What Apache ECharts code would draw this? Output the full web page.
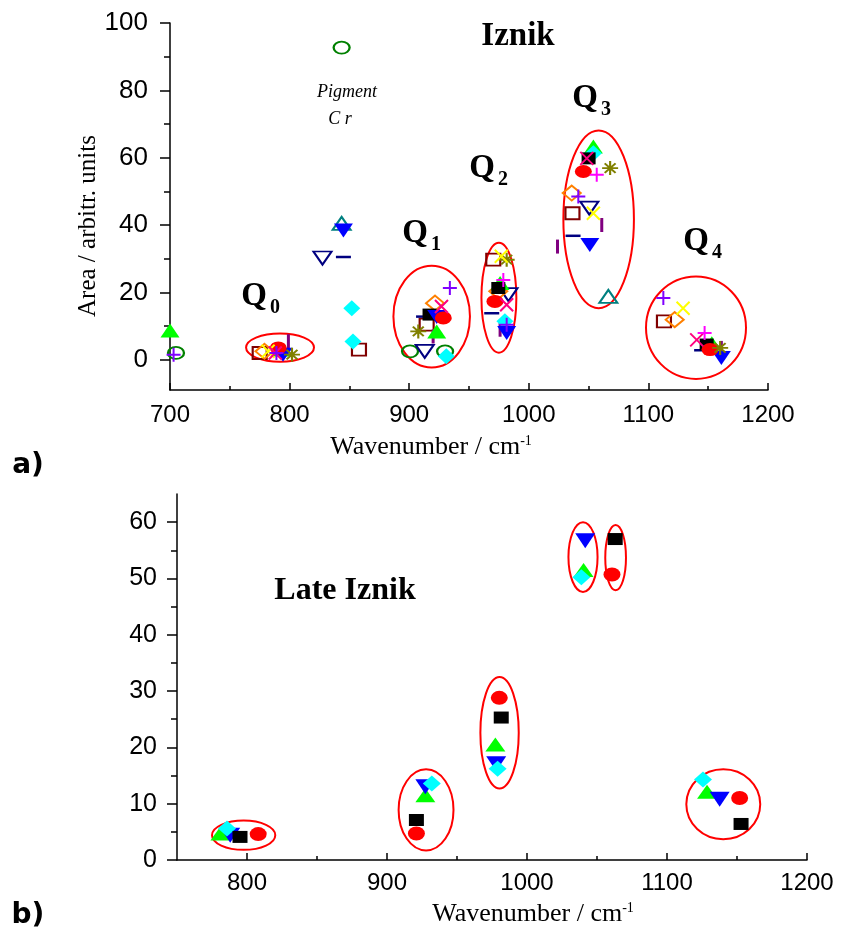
<!DOCTYPE html>
<html><head><meta charset="utf-8">
<script src="https://cdn.jsdelivr.net/npm/echarts@6/dist/echarts.min.js"></script>
<style>html,body{margin:0;padding:0;background:#fff}#c{width:847px;height:936px}</style>
</head><body><div id="c"></div>
<script>
// ===== Panel a) Iznik : [wavenumber (cm-1), area (arbitr. units)] =====
const blackSquareA   = [[917,13.4],[974.5,21.3],[1050,59.8],[1148.7,4.5]];
const redCircleA     = [[790.5,3.5],[928.5,12.4],[971.7,17.3],[1045.6,55.9],[1151.5,3]];
const greenTriA      = [[700,8.7],[793,3],[923,8.4],[976,22.8],[1054,63.3],[1153,4.9]];
const blueTriDownA   = [[794.5,1.5],[845,38.4],[923,12.7],[981.5,7.9],[1051,34.1],[1161,0.5]];
const cyanDiamondA   = [[852,15.3],[853,5.4],[931,1],[980,11.4],[1054,61.3]];
const pinkCrossA     = [[788,2],[927,15.8],[981.5,16.3],[1048.5,59.8],[1140.4,5.9]];
const oliveStarA     = [[802,1.5],[907.6,8.4],[981.5,29.7],[1068,56.9],[1160,3.5]];
const purpleBarA     = [[799,5.5],[920,6.9],[976,8.9],[1024,33.6],[1061,40],[1161,3.5]];
const navyDashA      = [[845,30.5],[912,12.8],[969,13.8],[1037,36.8],[1144.5,2.8]];
const wineOpenSqA    = [[775,2],[858,3],[914.6,10.4],[970.3,29.7],[1036.5,43.5],[1113,11.4]];
const greenOpenCircA = [[705,2],[843.5,92.7],[900.7,2.5],[930,2.5]];
const tealOpenTriA   = [[843.5,40.5],[1066.5,18.8]];
const navyOpenTriDnA = [[827.5,30.2],[913,2.5],[983,19.3],[1050.6,45]];
const orangeOpenDiaA = [[779,2.5],[921.6,16.8],[974.5,20.3],[1035.9,49.5],[1122,11.9]];
const magentaPlusA   = [[978.7,23.7],[1056.8,54.9],[1147,7.9]];
const yellowCrossA   = [[782,2.5],[977,30.7],[1054,43.5],[1129,15.3]];
const violetPlusA    = [[703,1.5],[789,2],[934,21.3],[981.5,10.4],[1041.4,48.5],[1112.5,18.3]];
// band ellipses (centre wavenumber, centre area, half-width cm-1, half-height area)
const bandEllipsesA  = [[792,3.6,28.4,4.2],[918.8,12.8,32,15.1],[975,18.4,14.6,16.3],[1058.4,41.7,29.5,26.4],[1139.8,9.5,41.8,15.2]];
const xTicksA = [700,800,900,1000,1100,1200];
const xMinorA = [750,850,950,1050,1150];
const yTicksA = [0,20,40,60,80,100];
const yMinorA = [10,30,50,70,90];

// ===== Panel b) Late Iznik =====
const blackSquareB = [[795,4.1],[921,7.1],[981.6,25.3],[1063,57],[1152.9,6.4]];
const redCircleB   = [[808,4.6],[921,4.7],[980.2,28.8],[1060.7,50.7],[1151.9,11]];
const greenTriB    = [[781,4.7],[927.4,11.5],[977.4,20.5],[1040.4,51.5],[1128.6,12.1]];
const blueTriDownB = [[788,4.4],[927.4,13],[978,17.1],[1041.6,56.7],[1137.6,10.8]];
const cyanDiamondB = [[785.7,5.6],[932,13.6],[979,16.2],[1038.8,50.2],[1125.7,14.3]];
const bandEllipsesB = [[797.6,4.4,22.6,2.6],[927.9,8.9,19.6,7.2],[980.4,22.6,13.7,9.9],[1040,53.8,10.4,6.2],[1063.3,53.7,7.4,5.8],[1140.2,9.9,26.4,6.2]];
const xTicksB = [800,900,1000,1100,1200];
const xMinorB = [850,950,1050,1150];
const yTicksB = [0,10,20,30,40,50,60];
const yMinorB = [5,15,25,35,45,55];

// ===== styling helpers =====
const SANS = '"Liberation Sans", Arial, sans-serif';
const SERIF = '"Liberation Serif", "Times New Roman", serif';
const P_PLUS = 'path://M5,0L5,10M0,5L10,5';
const P_CROSS = 'path://M0,0L10,10M10,0L0,10';
const P_STAR = 'path://M5,0L5,10M0,5L10,5M1.6,1.6L8.4,8.4M8.4,1.6L1.6,8.4';

function filled(symbol, size, color, rot) {
  return {symbol, symbolSize: size, symbolRotate: rot || 0, itemStyle: {color, borderWidth: 0, opacity: 1}};
}
function open(symbol, size, color, rot) {
  return {symbol, symbolSize: size, symbolRotate: rot || 0, itemStyle: {color: 'rgba(255,255,255,0)', borderColor: color, borderWidth: 2, opacity: 1}};
}
function stroke(symbol, size, color) {
  return {symbol, symbolSize: size, itemStyle: {color: 'none', borderColor: color, borderWidth: 2, opacity: 1}};
}
function scatter(grid, data, st, z) {
  return Object.assign({type: 'scatter', xAxisIndex: grid * 2, yAxisIndex: grid * 2, data, silent: true, z: z || 3}, st);
}
function ellipses(grid, data) {
  return {type: 'custom', xAxisIndex: grid * 2, yAxisIndex: grid * 2, data, silent: true, z: 2, clip: false,
    renderItem: function (params, api) {
      const c = api.coord([api.value(0), api.value(1)]);
      const s = api.size([api.value(2), api.value(3)]);
      return {type: 'ellipse', shape: {cx: c[0], cy: c[1], rx: s[0], ry: s[1]},
        style: {fill: 'none', stroke: '#ff0000', lineWidth: 2}};
    }};
}
const plain = function (v) { return String(v); };
function xAxes(grid, min, max, major, minor, fs, margin) {
  return [
    {type: 'value', gridIndex: grid, min, max, position: 'bottom',
     axisLine: {show: true, onZero: false, lineStyle: {color: '#000', width: 1.5}},
     axisTick: {show: true, inside: true, length: 7, customValues: major, lineStyle: {color: '#000', width: 1.5}},
     axisLabel: {show: true, customValues: major, formatter: plain, fontSize: fs, fontFamily: SANS, color: '#000', margin},
     splitLine: {show: false}},
    {type: 'value', gridIndex: grid, min, max, position: 'bottom',
     axisLine: {show: false, onZero: false},
     axisTick: {show: true, inside: true, length: 4, customValues: minor, lineStyle: {color: '#000', width: 1.5}},
     axisLabel: {show: false}, splitLine: {show: false}}
  ];
}
function yAxes(grid, min, max, major, minor, fs, margin) {
  return [
    {type: 'value', gridIndex: grid, min, max, position: 'left',
     axisLine: {show: true, onZero: false, lineStyle: {color: '#000', width: 1.5}},
     axisTick: {show: true, inside: false, length: 10, customValues: major, lineStyle: {color: '#000', width: 1.5}},
     axisLabel: {show: true, customValues: major, formatter: plain, fontSize: fs, fontFamily: SANS, color: '#000', margin},
     splitLine: {show: false}},
    {type: 'value', gridIndex: grid, min, max, position: 'left',
     axisLine: {show: false, onZero: false},
     axisTick: {show: true, inside: false, length: 6, customValues: minor, lineStyle: {color: '#000', width: 1.5}},
     axisLabel: {show: false}, splitLine: {show: false}}
  ];
}
function txt(x, y, text, size, opts) {
  return {type: 'text', x, y, silent: true, rotation: (opts && opts.rotation) || 0,
    style: Object.assign({text, fontSize: size, fontFamily: SERIF, fill: '#000', align: 'center', verticalAlign: 'middle'}, opts && opts.style)};
}
function qLabel(x, y, sub) {
  return [txt(x, y, 'Q', 33, {style: {fontWeight: 'bold'}}), txt(x + 21, y + 12, sub, 20, {style: {fontWeight: 'bold'}})];
}
function axisTitle(x, y) {
  return {type: 'text', x, y, silent: true, style: {
    text: '{a|Wavenumber / cm}{b|-1}', align: 'center', verticalAlign: 'middle',
    rich: {a: {fontSize: 26, fontFamily: SERIF, fill: '#000'}, b: {fontSize: 14, fontFamily: SERIF, fill: '#000', verticalAlign: 'top'}}}};
}

const SQ = [14, 12], CI = [17, 13], TR = [19, 14], DI = [17, 16];

const option = {
  animation: false,
  backgroundColor: '#fff',
  grid: [
    {left: 170, right: 79, top: 23, bottom: 546, containLabel: false},
    {left: 177, right: 40, top: 494, bottom: 76, containLabel: false}
  ],
  xAxis: [].concat(xAxes(0, 700, 1200, xTicksA, xMinorA, 24, 13), xAxes(1, 750, 1200, xTicksB, xMinorB, 24, 11)),
  yAxis: [].concat(yAxes(0, -9, 100, yTicksA, yMinorA, 26, 22), yAxes(1, 0, 65, yTicksB, yMinorB, 25, 20)),
  series: [
    ellipses(0, bandEllipsesA),
    scatter(0, greenOpenCircA, open('circle', [16, 12], '#008000')),
    scatter(0, tealOpenTriA, open('triangle', [18, 13], '#008080')),
    scatter(0, navyOpenTriDnA, open('triangle', [18, 13], '#000080', 180)),
    scatter(0, wineOpenSqA, open('rect', [14, 12], '#800000')),
    scatter(0, orangeOpenDiaA, open('diamond', [18, 15], '#ff8000')),
    scatter(0, purpleBarA, filled('rect', [3, 14], '#800080')),
    scatter(0, navyDashA, filled('rect', [15, 2.5], '#000080')),
    scatter(0, greenTriA, filled('triangle', TR, '#00ff00')),
    scatter(0, cyanDiamondA, filled('diamond', DI, '#00ffff')),
    scatter(0, blackSquareA, filled('rect', SQ, '#000000')),
    scatter(0, blueTriDownA, filled('triangle', TR, '#0000ff', 180)),
    scatter(0, redCircleA, filled('circle', CI, '#ff0000')),
    scatter(0, oliveStarA, stroke(P_STAR, [16, 14], '#808000')),
    scatter(0, yellowCrossA, stroke(P_CROSS, [13, 13], '#ffff00')),
    scatter(0, pinkCrossA, stroke(P_CROSS, [13, 13], '#ff0080')),
    scatter(0, magentaPlusA, stroke(P_PLUS, [14, 14], '#ff00ff')),
    scatter(0, violetPlusA, stroke(P_PLUS, [14, 14], '#8000ff')),

    ellipses(1, bandEllipsesB),
    scatter(1, greenTriB, filled('triangle', [20, 14], '#00ff00')),
    scatter(1, blueTriDownB, filled('triangle', [20, 15], '#0000ff', 180)),
    scatter(1, cyanDiamondB, filled('diamond', [18, 16], '#00ffff')),
    scatter(1, blackSquareB, filled('rect', [15, 12], '#000000')),
    scatter(1, redCircleB, filled('circle', [17, 14], '#ff0000'))
  ],
  graphic: [].concat(
    [txt(518, 36, 'Iznik', 33, {style: {fontWeight: 'bold'}}),
     txt(347, 92, 'Pigment', 18, {style: {fontStyle: 'italic'}}),
     txt(340, 119, 'C r', 18, {style: {fontStyle: 'italic'}}),
     txt(345, 591, 'Late Iznik', 32, {style: {fontWeight: 'bold'}}),
     txt(88, 226, 'Area / arbitr. units', 25, {rotation: Math.PI / 2}),
     axisTitle(431, 447),
     axisTitle(533, 914),
     txt(28, 466, 'a)', 28, {style: {fontWeight: 'bold', fontFamily: '"DejaVu Sans", sans-serif'}}),
     txt(28, 916, 'b)', 28, {style: {fontWeight: 'bold', fontFamily: '"DejaVu Sans", sans-serif'}})],
    qLabel(254, 296, '0'), qLabel(415, 233, '1'), qLabel(482, 168, '2'), qLabel(585, 98, '3'), qLabel(696, 241, '4')
  )
};
const chart = echarts.init(document.getElementById('c'), null, {renderer: 'canvas'});
chart.setOption(option);
</script></body></html>
